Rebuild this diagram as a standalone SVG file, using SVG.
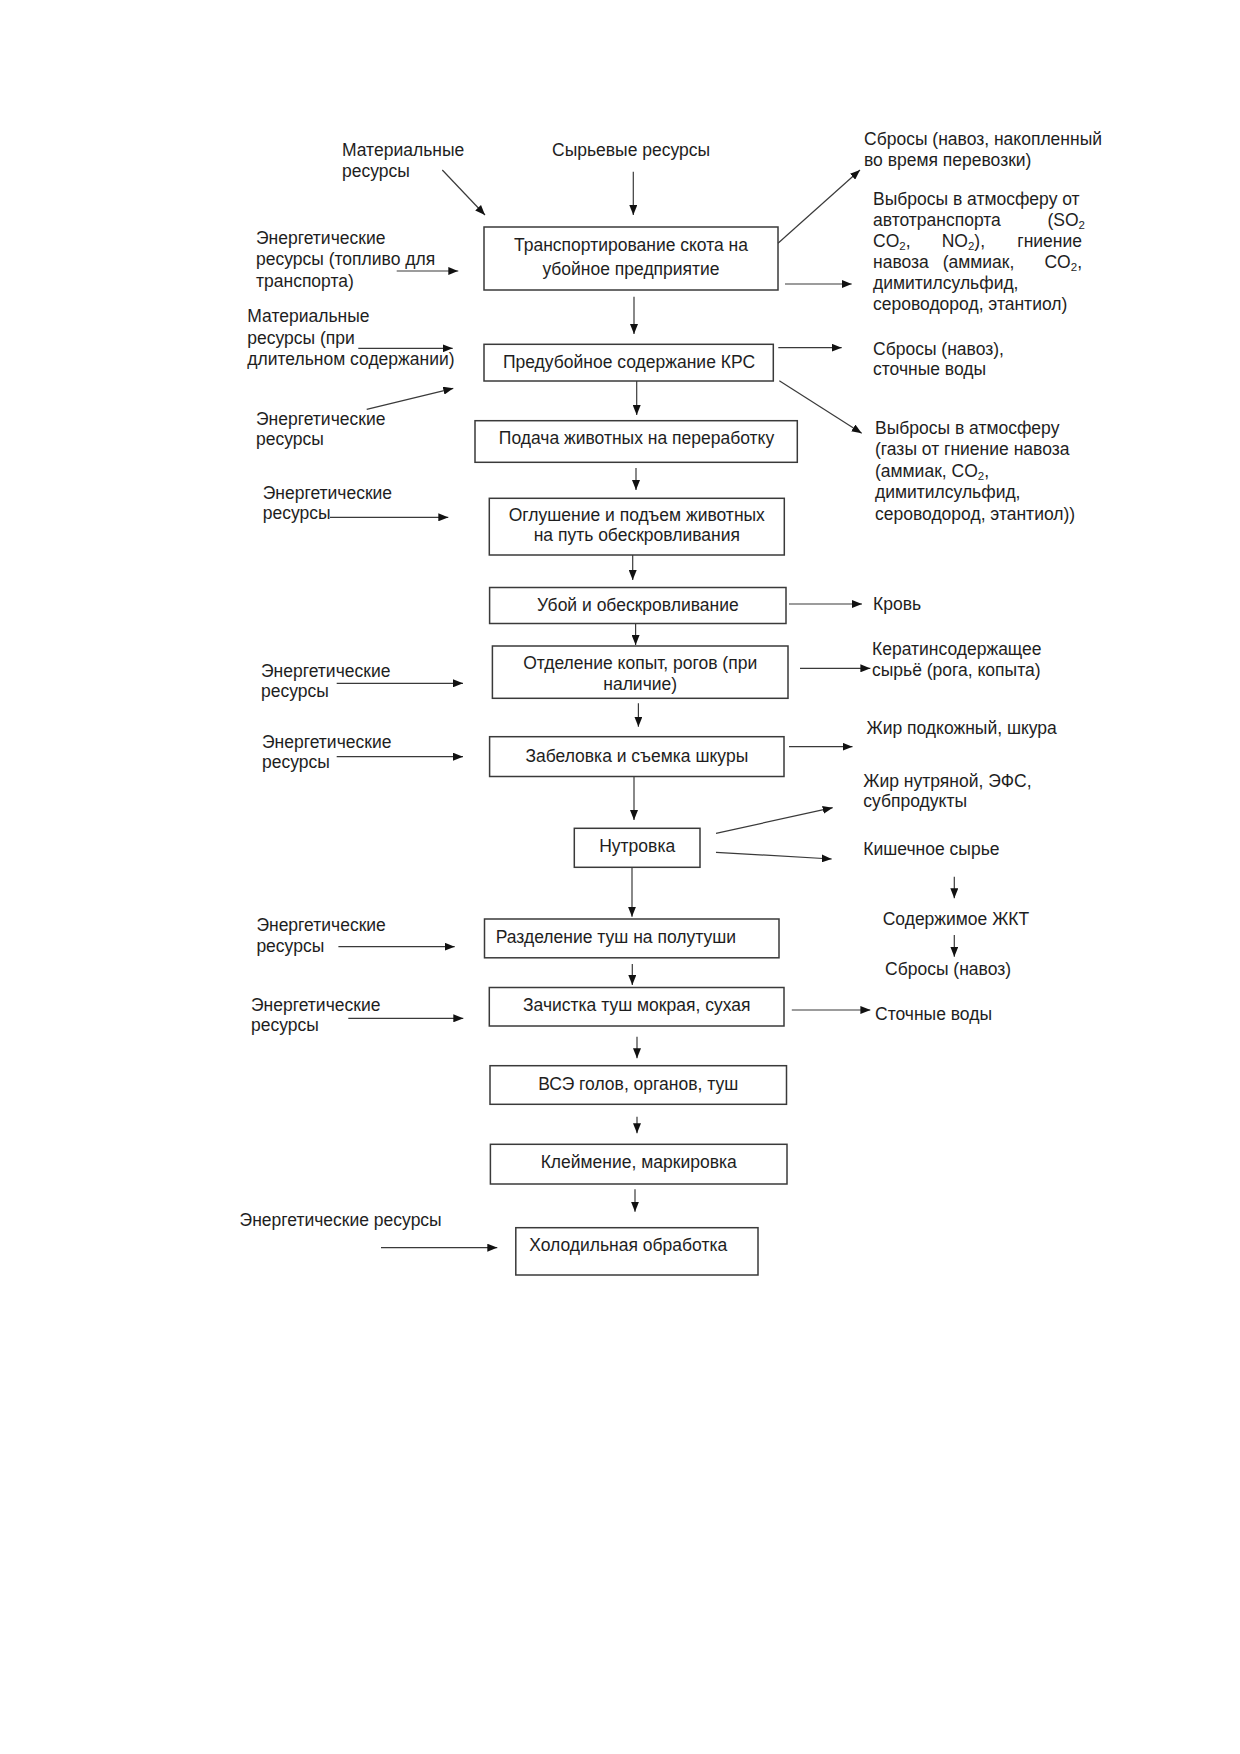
<svg xmlns="http://www.w3.org/2000/svg" width="1240" height="1754" viewBox="0 0 1240 1754">
<style>
text{font-family:"Liberation Sans",Arial,sans-serif;font-size:17.5px;fill:#1e1e1e}
.c{text-anchor:middle}
.e{text-anchor:end}
.sub{font-size:11.5px}
.box{fill:none;stroke:#3a3a3a;stroke-width:1.5}
.ln{stroke:#3a3a3a;stroke-width:1.2;fill:none;marker-end:url(#ah)}
</style>
<defs>
<marker id="ah" markerUnits="userSpaceOnUse" markerWidth="10" markerHeight="8" refX="10" refY="4" orient="auto">
<path d="M0,0 L10,4 L0,8 z" fill="#111"/>
</marker>
</defs>
<rect width="1240" height="1754" fill="#fff"/>

<g id="connectors">
<line class="ln" x1="442.3" y1="170" x2="485" y2="215"/>
<line class="ln" x1="633.3" y1="171.7" x2="633.3" y2="215"/>
<line class="ln" x1="396.7" y1="271" x2="458.3" y2="271"/>
<line class="ln" x1="778" y1="243.3" x2="860" y2="170"/>
<line class="ln" x1="785" y1="284" x2="851.7" y2="284"/>
<line class="ln" x1="634" y1="296.7" x2="634" y2="334"/>
<line class="ln" x1="358.3" y1="348.3" x2="452.7" y2="348.3"/>
<line class="ln" x1="366.7" y1="409.3" x2="453.3" y2="388.3"/>
<line class="ln" x1="778.3" y1="347.7" x2="841.7" y2="347.7"/>
<line class="ln" x1="779.3" y1="380.7" x2="861.7" y2="433.3"/>
<line class="ln" x1="636.7" y1="381" x2="636.7" y2="415"/>
<line class="ln" x1="636" y1="468" x2="636" y2="490"/>
<line class="ln" x1="330" y1="517.3" x2="448.3" y2="517.3"/>
<line class="ln" x1="632.7" y1="555" x2="632.7" y2="580"/>
<line class="ln" x1="789" y1="604" x2="862" y2="604"/>
<line class="ln" x1="635.6" y1="623.5" x2="635.6" y2="645"/>
<line class="ln" x1="336.7" y1="683.3" x2="463" y2="683.3"/>
<line class="ln" x1="800" y1="668.3" x2="870.4" y2="668.3"/>
<line class="ln" x1="638.4" y1="703.3" x2="638.4" y2="726.7"/>
<line class="ln" x1="336.7" y1="756.7" x2="463" y2="756.7"/>
<line class="ln" x1="789" y1="746.7" x2="852.5" y2="746.7"/>
<line class="ln" x1="634" y1="776.7" x2="634" y2="820"/>
<line class="ln" x1="716" y1="833.3" x2="832.7" y2="807.7"/>
<line class="ln" x1="716" y1="852.3" x2="831.7" y2="859"/>
<line class="ln" x1="954.3" y1="876.7" x2="954.3" y2="898.3"/>
<line class="ln" x1="954.3" y1="935" x2="954.3" y2="956.7"/>
<line class="ln" x1="632" y1="867.3" x2="632" y2="916.7"/>
<line class="ln" x1="338.4" y1="946.7" x2="454.7" y2="946.7"/>
<line class="ln" x1="632.3" y1="964" x2="632.3" y2="985"/>
<line class="ln" x1="348.3" y1="1018.3" x2="463.3" y2="1018.3"/>
<line class="ln" x1="791.8" y1="1010" x2="870.4" y2="1010"/>
<line class="ln" x1="637" y1="1036.7" x2="637" y2="1058.3"/>
<line class="ln" x1="637" y1="1116.7" x2="637" y2="1133.3"/>
<line class="ln" x1="635" y1="1189.3" x2="635" y2="1211.7"/>
<line class="ln" x1="381" y1="1247.7" x2="497.3" y2="1247.7"/>
</g>

<g id="in-material-1"><text x="342" y="155.5">Материальные</text><text x="342" y="176.5">ресурсы</text></g>
<g id="in-raw"><text x="552" y="155.5">Сырьевые ресурсы</text></g>
<g id="in-energy-fuel"><text x="256" y="243.5">Энергетические</text><text x="256" y="265">ресурсы (топливо для</text><text x="256" y="286.5">транспорта)</text></g>
<g id="out-manure-transport"><text x="864" y="145">Сбросы (навоз, накопленный</text><text x="864" y="165.5">во время перевозки)</text></g>
<g id="out-emissions-transport">
<text x="873" y="205">Выбросы в атмосферу от</text>
<text x="873" y="226">автотранспорта</text><text class="e" x="1085" y="226">(SO<tspan class="sub" dy="3">2</tspan></text>
<text x="873" y="247">CO<tspan class="sub" dy="3">2</tspan><tspan dy="-3">,</tspan></text><text x="941.7" y="247">NO<tspan class="sub" dy="3">2</tspan><tspan dy="-3">),</tspan></text><text class="e" x="1082" y="247">гниение</text>
<text x="873" y="268">навоза</text><text x="942.7" y="268">(аммиак,</text><text class="e" x="1082" y="268">CO<tspan class="sub" dy="3">2</tspan><tspan dy="-3">,</tspan></text>
<text x="873" y="289">димитилсульфид,</text>
<text x="873" y="310">сероводород, этантиол)</text>
</g>
<g id="n1"><rect class="box" x="484" y="227" width="294" height="63"/><text class="c" x="631" y="251">Транспортирование скота на</text><text class="c" x="631" y="275">убойное предприятие</text></g>

<g id="in-material-2"><text x="247.3" y="322.3">Материальные</text><text x="247.3" y="343.5">ресурсы (при</text><text x="247.3" y="365">длительном содержании)</text></g>
<g id="in-energy-2"><text x="256" y="425">Энергетические</text><text x="256" y="445">ресурсы</text></g>
<g id="n2"><rect class="box" x="484" y="344.3" width="289.3" height="36.7"/><text class="c" x="629" y="368">Предубойное содержание КРС</text></g>
<g id="out-manure-2"><text x="873" y="355">Сбросы (навоз),</text><text x="873" y="375">сточные воды</text></g>
<g id="out-emissions-2">
<text x="875" y="433.5">Выбросы в атмосферу</text>
<text x="875" y="455">(газы от гниение навоза</text>
<text x="875" y="476.5">(аммиак, CO<tspan class="sub" dy="3">2</tspan><tspan dy="-3">,</tspan></text>
<text x="875" y="498">димитилсульфид,</text>
<text x="875" y="519.5">сероводород, этантиол))</text>
</g>
<g id="n3"><rect class="box" x="475" y="420.7" width="322.3" height="41.6"/><text class="c" x="636.5" y="444">Подача животных на переработку</text></g>
<g id="in-energy-3"><text x="262.7" y="499">Энергетические</text><text x="262.7" y="519">ресурсы</text></g>
<g id="n4"><rect class="box" x="489.3" y="498.3" width="295" height="56.7"/><text class="c" x="636.8" y="521">Оглушение и подъем животных</text><text class="c" x="636.8" y="541">на путь обескровливания</text></g>

<g id="n5"><rect class="box" x="489.6" y="587.5" width="296.4" height="36"/><text class="c" x="637.8" y="611">Убой и обескровливание</text></g>
<g id="out-blood"><text x="873" y="609.5">Кровь</text></g>
<g id="in-energy-5"><text x="261" y="676.7">Энергетические</text><text x="261" y="697.3">ресурсы</text></g>
<g id="n6"><rect class="box" x="492.4" y="646" width="295.6" height="52.3"/><text class="c" x="640.2" y="669.3">Отделение копыт, рогов (при</text><text class="c" x="640.2" y="690">наличие)</text></g>
<g id="out-keratin"><text x="872" y="655.3">Кератинсодержащее</text><text x="872" y="676">сырьё (рога, копыта)</text></g>
<g id="in-energy-6"><text x="262" y="747.5">Энергетические</text><text x="262" y="768">ресурсы</text></g>
<g id="n7"><rect class="box" x="489.6" y="736.7" width="294.4" height="39.8"/><text class="c" x="636.8" y="762">Забеловка и съемка шкуры</text></g>
<g id="out-fat-skin"><text x="866.5" y="734.3">Жир подкожный, шкура</text></g>
<g id="out-offal"><text x="863.3" y="787">Жир нутряной, ЭФС,</text><text x="863.3" y="807">субпродукты</text></g>
<g id="n8"><rect class="box" x="574.3" y="828.3" width="125.7" height="39"/><text class="c" x="637.2" y="852">Нутровка</text></g>
<g id="out-intestine"><text x="863.3" y="855">Кишечное сырье</text></g>
<g id="out-gut-content"><text x="882.7" y="925">Содержимое ЖКТ</text></g>
<g id="out-manure-3"><text x="885" y="975">Сбросы (навоз)</text></g>
<g id="in-energy-8"><text x="256.4" y="931">Энергетические</text><text x="256.4" y="952.3">ресурсы</text></g>
<g id="n9"><rect class="box" x="484.5" y="919" width="294.5" height="38.8"/><text x="495.7" y="942.5">Разделение туш на полутуши</text></g>
<g id="in-energy-9"><text x="251" y="1010.7">Энергетические</text><text x="251" y="1031">ресурсы</text></g>
<g id="n10"><rect class="box" x="489.3" y="987.5" width="294.7" height="38.5"/><text class="c" x="636.7" y="1011">Зачистка туш мокрая, сухая</text></g>
<g id="out-wastewater"><text x="875" y="1020">Сточные воды</text></g>
<g id="n11"><rect class="box" x="490" y="1065.7" width="296.5" height="38.6"/><text class="c" x="638.2" y="1090">ВСЭ голов, органов, туш</text></g>
<g id="n12"><rect class="box" x="490.4" y="1144.3" width="296.6" height="39.7"/><text class="c" x="638.7" y="1168">Клеймение, маркировка</text></g>
<g id="in-energy-12"><text x="239.6" y="1226">Энергетические ресурсы</text></g>
<g id="n13"><rect class="box" x="515.8" y="1227.7" width="242.2" height="47.3"/><text x="529.2" y="1250.7">Холодильная обработка</text></g>
</svg>
